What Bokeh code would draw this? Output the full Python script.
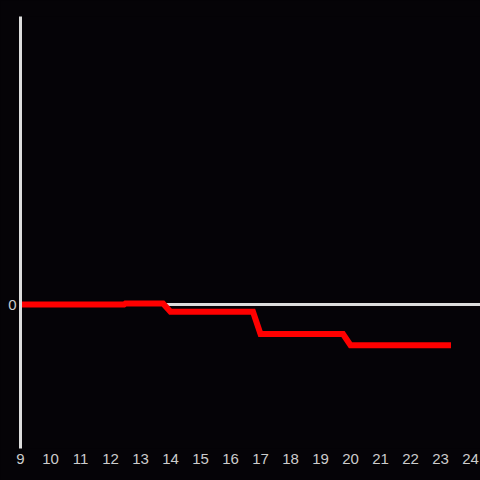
from bokeh.plotting import figure
from bokeh.models import Span, FixedTicker, Range1d, GlobalInlineStyleSheet
from bokeh.embed import file_html
from bokeh.resources import INLINE

hours = [9, 12.45, 12.5, 13.75, 14.0, 16.75, 17.0, 19.75, 20.0, 23.25]
values = [0, 0, 0.007, 0.007, -0.05, -0.05, -0.205, -0.205, -0.283, -0.283]
x_ticks = list(range(9, 25))
y_ticks = [0]

bg = "#050307"
p = figure(width=480, height=480, output_backend="svg", toolbar_location=None,
           x_range=Range1d(9, 24.333), y_range=Range1d(-1, 2),
           background_fill_color=bg, border_fill_color=bg,
           min_border_left=20, min_border_right=0, min_border_top=16, min_border_bottom=32)
p.stylesheets = [GlobalInlineStyleSheet(css="html, body { margin: 0; padding: 0; background: #050307; overflow: hidden; }")]
p.outline_line_color = None
p.xgrid.visible = False
p.ygrid.visible = False

zero = Span(location=0, dimension="width", line_color="#dddddd", line_width=3, level="underlay")
p.add_layout(zero)

p.line(hours, values, line_color="#ff0000", line_width=6, line_cap="square", line_join="miter")

p.xaxis.ticker = FixedTicker(ticks=x_ticks)
p.xaxis.axis_line_color = None
p.xaxis.major_tick_line_color = None
p.xaxis.minor_tick_line_color = None
p.xaxis.major_tick_out = 0
p.xaxis.major_tick_in = 0
p.xaxis.major_label_standoff = 5
p.xaxis.major_label_text_color = "#cccccc"
p.xaxis.major_label_text_font = "Liberation Sans"
p.xaxis.major_label_text_font_size = "15px"

p.yaxis.ticker = FixedTicker(ticks=y_ticks)
p.yaxis.axis_line_color = "#dddddd"
p.yaxis.axis_line_width = 3
p.yaxis.major_tick_line_color = None
p.yaxis.minor_tick_line_color = None
p.yaxis.major_tick_out = 0
p.yaxis.major_tick_in = 0
p.yaxis.major_label_standoff = 4
p.yaxis.major_label_text_color = "#cccccc"
p.yaxis.major_label_text_font = "Liberation Sans"
p.yaxis.major_label_text_font_size = "15px"

open("out.html", "w").write(file_html(p, INLINE))
